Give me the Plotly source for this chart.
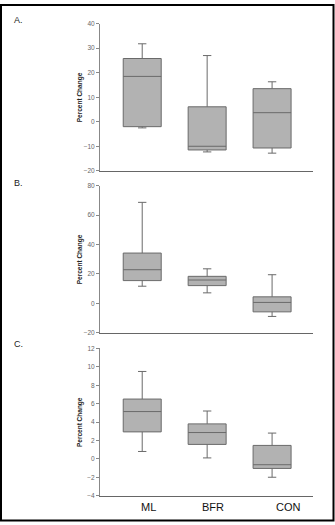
import plotly.graph_objects as go

categories = ["ML", "BFR", "CON"]

# Panel A
a_upper = [31.8, 27.0, 16.3]
a_q3 = [25.8, 6.1, 13.5]
a_median = [18.5, -10.0, 3.7]
a_q1 = [-2.0, -11.5, -10.7]
a_lower = [-2.5, -12.3, -12.8]

# Panel B
b_upper = [68.6, 23.5, 19.5]
b_q3 = [34.2, 18.4, 4.5]
b_median = [22.9, 15.9, 0.7]
b_q1 = [15.5, 12.1, -5.7]
b_lower = [11.7, 7.2, -8.8]

# Panel C
c_upper = [9.5, 5.2, 2.8]
c_q3 = [6.5, 3.8, 1.46]
c_median = [5.14, 2.86, -0.64]
c_q1 = [2.93, 1.57, -1.04]
c_lower = [0.8, 0.1, -2.0]

a_ticks = [-20, -10, 0, 10, 20, 30, 40]
b_ticks = [-20, 0, 20, 40, 60, 80]
c_ticks = [-4, -2, 0, 2, 4, 6, 8, 10, 12]

panels = [
    ("A.", a_upper, a_q3, a_median, a_q1, a_lower, a_ticks, [0.678, 0.962]),
    ("B.", b_upper, b_q3, b_median, b_q1, b_lower, b_ticks, [0.365, 0.6495]),
    ("C.", c_upper, c_q3, c_median, c_q1, c_lower, c_ticks, [0.0509, 0.335]),
]

fig = go.Figure()
W, H = 335, 525
FONT = "Liberation Sans, Arial, sans-serif"
line_col = "#6a6a6a"
fill_col = "#b2b2b2"

for i, (lab, up, q3, med, q1, lo, ticks, dom) in enumerate(panels, start=1):
    xa = "x" if i == 1 else f"x{i}"
    ya = "y" if i == 1 else f"y{i}"
    fig.add_trace(go.Box(
        x=categories, q1=q1, median=med, q3=q3,
        lowerfence=lo, upperfence=up,
        fillcolor=fill_col, line=dict(color=line_col, width=1),
        whiskerwidth=0.22, width=0.585, boxpoints=False,
        xaxis=xa, yaxis=ya, showlegend=False, hoverinfo="skip",
    ))
    xkey = "xaxis" if i == 1 else f"xaxis{i}"
    ykey = "yaxis" if i == 1 else f"yaxis{i}"
    fig.update_layout(**{
        xkey: dict(
            domain=[100 / W, 313 / W], anchor=ya, type="category",
            categoryorder="array", categoryarray=categories,
            range=[-0.65, 2.63], showline=True, linecolor="#666666",
            linewidth=1, showgrid=False, zeroline=False, ticks="",
            showticklabels=False,
        ),
        ykey: dict(
            domain=dom, anchor=xa, range=[ticks[0], ticks[-1]],
            tickvals=ticks, showline=True, linecolor="#888888", linewidth=1,
            showgrid=False, zeroline=False, ticks="outside", ticklen=3,
            tickcolor="#888888",
            tickfont=dict(family=FONT, size=6.5, color="#666666"),
        ),
    })
    ymid = (dom[0] + dom[1]) / 2
    fig.add_annotation(
        text="Percent Change", textangle=-90, x=80 / W, y=ymid,
        xref="paper", yref="paper", showarrow=False,
        font=dict(family=FONT, size=6.5, color="#222222", weight="bold"),
        xanchor="center", yanchor="middle",
    )

# category labels under bottom panel (offset to the right as in the reference)
label_shift = [6, 6, 16]
for cat, sh in zip(categories, label_shift):
    fig.add_annotation(
        text=cat, x=cat, xref="x3", y=1 - 510 / H, yref="paper",
        xshift=sh, showarrow=False,
        font=dict(family=FONT, size=11, color="#111111"),
        xanchor="center", yanchor="middle",
    )

label_pos = [("A.", 18, 16), ("B.", 18, 181), ("C.", 18, 345)]
for t, px, py in label_pos:
    fig.add_annotation(
        text=t, x=px / W, y=1 - py / H, xref="paper", yref="paper",
        showarrow=False, font=dict(family=FONT, size=9, color="#222222"),
        xanchor="center", yanchor="middle",
    )

fig.add_shape(type="rect", xref="paper", yref="paper",
              x0=1 / W, x1=1 - 1.5 / W, y0=1.5 / H, y1=1 - 1 / H,
              line=dict(color="black", width=2))

fig.update_layout(
    width=W, height=H, margin=dict(l=0, r=0, t=0, b=0),
    paper_bgcolor="white", plot_bgcolor="white",
    font=dict(family=FONT),
)

fig.write_html("out.html")
